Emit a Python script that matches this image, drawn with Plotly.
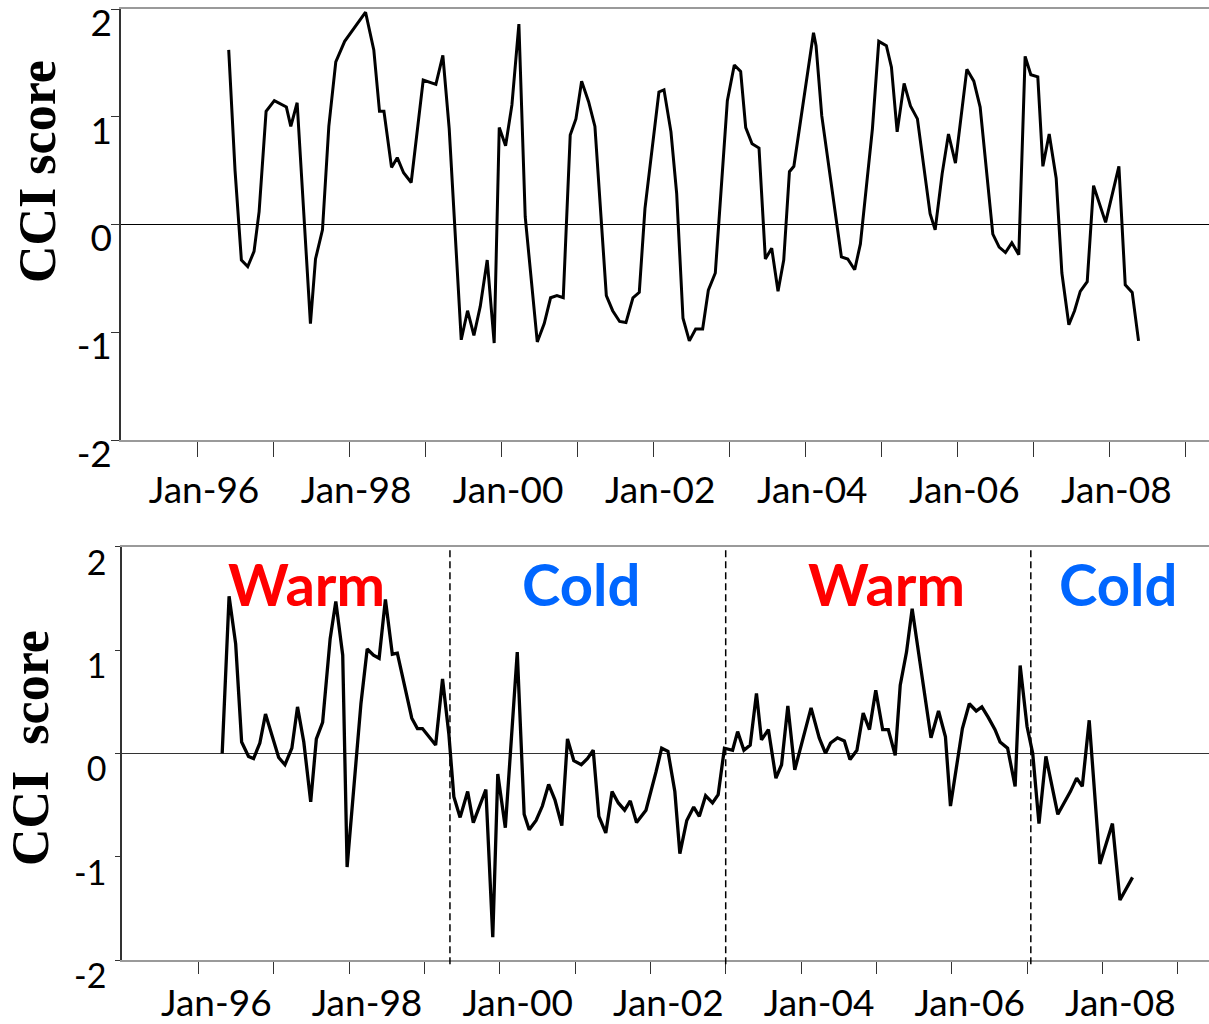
import plotly.graph_objects as go

# ---------------- data ----------------
# month offsets from Jan-1996 (fractional) and CCI values, upper panel
top_month = [5, 6, 7, 8, 9, 9.8, 10.9, 12.2, 14.1, 14.8, 15.8, 17.9, 18.7, 19.8, 20.8, 21.9, 23.3,
             26.6, 27.9, 28.8, 29.5, 30.7, 31.6, 32.6, 33.8, 35.7, 37.7, 38.8, 39.8, 41.7, 42.7,
             43.7, 44.7, 45.8, 46.9, 47.7, 48.7, 49.7, 50.8, 51.8, 53.7, 54.8, 55.8, 56.8, 57.8,
             58.9, 59.8, 60.7, 61.8, 62.8, 64.6, 65.6, 66.7, 67.7, 68.8, 69.8, 70.7, 72.9, 73.7,
             74.8, 75.7, 76.7, 77.7, 78.7, 79.8, 80.7, 81.8, 83.7, 84.8, 85.8, 86.6, 87.6, 88.7,
             89.7, 90.7, 91.7, 92.6, 93.5, 94.2, 97.3, 97.7, 98.6, 101.7, 102.7, 103.8, 104.7,
             106.6, 107.6, 108.8, 109.6, 110.5, 111.6, 112.6, 113.7, 115.7, 116.5, 117.6, 118.6,
             119.7, 121.5, 122.6, 123.6, 125.6, 126.6, 127.6, 128.6, 129.7, 130.7, 131.6, 132.7,
             133.5, 134.5, 135.6, 136.5, 137.6, 138.5, 139.4, 140.5, 141.5, 143.4, 145.5, 146.5,
             147.6, 148.6]
top_cci = [1.62, 0.50, -0.33, -0.39, -0.25, 0.12, 1.05, 1.15, 1.09, 0.91, 1.13, -0.92, -0.32, -0.05,
           0.91, 1.51, 1.70, 1.97, 1.62, 1.05, 1.05, 0.53, 0.62, 0.48, 0.39, 1.34, 1.30, 1.57, 0.89,
           -1.07, -0.80, -1.03, -0.76, -0.33, -1.10, 0.90, 0.73, 1.11, 1.86, 0.07, -1.09, -0.92,
           -0.68, -0.66, -0.68, 0.83, 0.98, 1.33, 1.14, 0.91, -0.66, -0.80, -0.90, -0.91, -0.68,
           -0.63, 0.15, 1.23, 1.25, 0.86, 0.29, -0.87, -1.08, -0.97, -0.97, -0.61, -0.45, 1.15,
           1.48, 1.42, 0.90, 0.75, 0.71, -0.32, -0.22, -0.62, -0.33, 0.49, 0.54, 1.78, 1.66, 1.01,
           -0.30, -0.32, -0.42, -0.18, 0.89, 1.70, 1.66, 1.46, 0.86, 1.31, 1.10, 0.98, 0.10, -0.05,
           0.47, 0.84, 0.57, 1.44, 1.33, 1.09, -0.09, -0.21, -0.26, -0.17, -0.28, 1.56, 1.39, 1.37,
           0.54, 0.84, 0.43, -0.45, -0.93, -0.80, -0.62, -0.53, 0.36, 0.02, 0.54, -0.56, -0.63,
           -1.08]

# lower panel
bot_month = [3.8, 4.9, 5.95, 6.9, 8.0, 8.8, 9.8, 10.7, 12.8, 13.8, 14.9, 15.8, 16.8, 17.9, 18.8,
             19.8, 21.0, 21.9, 23.0, 23.7, 25.9, 26.9, 27.9, 28.8, 29.8, 30.9, 31.7, 34.0, 34.9,
             35.7, 37.8, 38.9, 39.9, 40.7, 41.7, 42.9, 43.8, 45.8, 46.9, 47.7, 48.9, 50.8, 51.9,
             52.7, 53.8, 54.8, 55.8, 56.8, 57.9, 58.8, 59.8, 61.0, 62.0, 62.9, 63.8, 64.9, 65.9,
             66.9, 67.9, 68.8, 69.8, 71.3, 72.9, 73.8, 74.8, 75.9, 76.7, 77.8, 78.9, 79.8, 80.8,
             81.9, 82.8, 83.8, 85.1, 85.9, 86.9, 87.9, 88.9, 89.7, 90.8, 92.0, 92.9, 93.9, 95.0,
             97.6, 98.9, 99.9, 100.7, 101.8, 102.9, 103.8, 104.9, 105.9, 106.9, 107.9, 109.0,
             109.9, 111.0, 111.8, 112.8, 113.7, 116.7, 117.9, 119.0, 119.8, 121.7, 122.8, 123.9,
             124.8, 125.8, 126.9, 127.7, 128.9, 130.1, 130.9, 132.0, 132.9, 133.9, 135.0, 136.9,
             137.9, 138.9, 139.9, 140.8, 141.9, 143.6, 145.6, 146.8, 148.8]
bot_cci = [0.0, 1.52, 1.06, 0.11, -0.03, -0.05, 0.10, 0.38, -0.04, -0.11, 0.05, 0.45, 0.11, -0.47,
           0.14, 0.30, 1.11, 1.47, 0.95, -1.10, 0.48, 1.01, 0.95, 0.92, 1.49, 0.96, 0.97, 0.34,
           0.24, 0.24, 0.08, 0.72, 0.19, -0.42, -0.62, -0.37, -0.67, -0.35, -1.78, -0.20, -0.72,
           0.98, -0.59, -0.74, -0.65, -0.51, -0.30, -0.45, -0.70, 0.14, -0.07, -0.11, -0.05, 0.03,
           -0.61, -0.77, -0.37, -0.48, -0.55, -0.46, -0.67, -0.55, -0.18, 0.05, 0.02, -0.37, -0.97,
           -0.65, -0.52, -0.61, -0.41, -0.48, -0.40, 0.05, 0.03, 0.21, 0.03, 0.08, 0.58, 0.13,
           0.23, -0.24, -0.11, 0.46, -0.16, 0.44, 0.15, 0.0, 0.10, 0.15, 0.12, -0.06, 0.03, 0.39,
           0.23, 0.61, 0.23, 0.23, -0.02, 0.66, 0.98, 1.40, 0.15, 0.41, 0.16, -0.51, 0.24, 0.48,
           0.41, 0.45, 0.35, 0.23, 0.11, 0.05, -0.32, 0.85, 0.26, 0.0, -0.68, -0.03, -0.59, -0.48,
           -0.37, -0.24, -0.32, 0.32, -1.07, -0.68, -1.42, -1.20]

regime_breaks = [1999.34, 2003.0, 2007.05]
regime_labels = ["Warm", "Cold", "Warm", "Cold"]
regime_label_x = [1997.43, 2001.08, 2005.14, 2008.21]
regime_colors = ["#FF0000", "#0066FF", "#FF0000", "#0066FF"]

year_ticks = list(range(1996, 2010))
year_text = ["Jan-%02d" % (y % 100) if y % 2 == 0 else "" for y in year_ticks]
y_ticks = [-2, -1, 0, 1, 2]

top_x = [1996 + m / 12 for m in top_month]
bot_x = [1996 + m / 12 for m in bot_month]

# ---------------- figure ----------------
W, H = 1209, 1024
fig = go.Figure()
fig.add_trace(go.Scatter(x=top_x, y=top_cci, mode="lines", xaxis="x", yaxis="y",
                         line=dict(color="black", width=3), showlegend=False))
fig.add_trace(go.Scatter(x=bot_x, y=bot_cci, mode="lines", xaxis="x2", yaxis="y2",
                         line=dict(color="black", width=3.3), showlegend=False))

FONT = "Lato, Open Sans, sans-serif"

def xax(domain, rng, anchor, shift, standoff, ticklen):
    return dict(domain=domain, range=rng, anchor=anchor, tickmode="array", automargin=False,
                tickvals=year_ticks, ticktext=year_text, ticks="outside", ticklen=ticklen,
                tickcolor="#333", tickwidth=1, showline=True, mirror=True,
                linecolor="#9a9a9a", linewidth=1.5, showgrid=False, zeroline=False,
                tickfont=dict(family=FONT, size=37, color="black"), ticklabeloverflow="allow",
                ticklabelshift=shift, ticklabelstandoff=standoff)

def yax(domain, anchor, shift, standoff, ticklen, zc, fs):
    return dict(domain=domain, range=[-2, 2], anchor=anchor, tickmode="array", automargin=False,
                tickvals=y_ticks, ticktext=[str(v) for v in y_ticks], ticks="outside",
                ticklen=ticklen, tickcolor="#333", tickwidth=1, showline=True,
                linecolor="#333", linewidth=1.5, showgrid=False, zeroline=True,
                zerolinecolor=zc, zerolinewidth=1, ticklabeloverflow="allow",
                tickfont=dict(family=FONT, size=fs, color="black"),
                ticklabelshift=shift, ticklabelstandoff=standoff)

fig.update_layout(
    width=W, height=H, margin=dict(l=0, r=0, t=0, b=0, autoexpand=False),
    paper_bgcolor="white", plot_bgcolor="white",
    xaxis=xax([121 / W, 1], [1995.0, 2009.31], "y", 7, 2, 15),
    yaxis=yax([1 - 440 / H, 1 - 9 / H], "x", 14, -8, 8, "black", 37),
    xaxis2=xax([122 / W, 1], [1994.987, 2009.415], "y2", 18, -2, 12),
    yaxis2=yax([1 - 960 / H, 1 - 546.7 / H], "x2", 16, 2, 5, "#333", 34),
)

for xb in regime_breaks:
    fig.add_shape(type="line", xref="x2", yref="y2 domain", x0=xb, x1=xb, y0=-0.01, y1=1,
                  line=dict(color="black", width=1.5, dash="7px,4px"))

for lab, lx, col in zip(regime_labels, regime_label_x, regime_colors):
    fig.add_annotation(x=lx, y=1.64, xref="x2", yref="y2", text="<b>%s</b>" % lab,
                       showarrow=False, xanchor="center", yanchor="middle",
                       font=dict(family=FONT, size=58, color=col))

title_font = dict(family="Liberation Serif, Times New Roman, serif", size=52, color="black")
fig.add_annotation(x=37 / W, y=1 - 172 / H, xref="paper", yref="paper", text="<b>CCI score</b>",
                   textangle=-90, showarrow=False, xanchor="center", yanchor="middle",
                   font=title_font)
fig.add_annotation(x=30 / W, y=1 - 748 / H, xref="paper", yref="paper",
                   text="<b>CCI&nbsp;&nbsp;score</b>", textangle=-90, showarrow=False,
                   xanchor="center", yanchor="middle", font=title_font)

fig.write_html("out.html")
